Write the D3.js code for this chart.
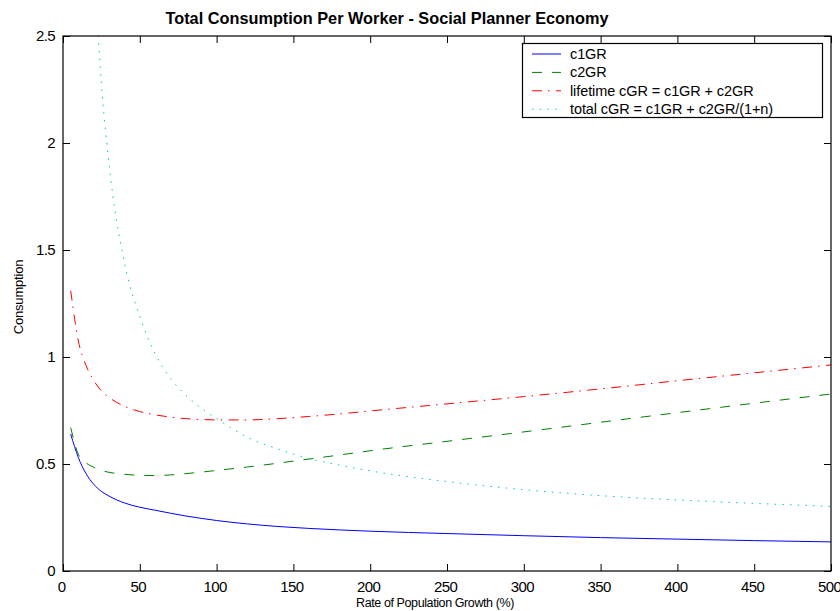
<!DOCTYPE html>
<html>
<head>
<meta charset="utf-8">
<script src="https://cdn.jsdelivr.net/npm/d3@7"></script>
<style>
  html, body { margin: 0; padding: 0; background: #fff; }
  svg { display: block; }
  text { font-family: "Liberation Sans", Arial, sans-serif; fill: #000; }
</style>
</head>
<body>
<svg id="chart" width="840" height="611"></svg>
<script>
// Population growth rate (%) at which each series was evaluated
const growth = [5, 10, 15, 20, 25, 30, 40, 50, 60, 70, 80, 90, 100, 120, 140, 160, 180, 200, 250, 300, 350, 400, 450, 500];

// Consumption of the young (c1GR)
const c1GR = [0.64, 0.53, 0.455, 0.405, 0.372, 0.35, 0.318, 0.298, 0.284, 0.27, 0.257, 0.246, 0.236, 0.22, 0.208, 0.199, 0.192, 0.186, 0.175, 0.165, 0.156, 0.149, 0.142, 0.136];

// Consumption of the old (c2GR)
const c2GR = [0.67, 0.545, 0.505, 0.485, 0.47, 0.461, 0.452, 0.447, 0.446, 0.449, 0.455, 0.462, 0.47, 0.486, 0.504, 0.523, 0.542, 0.562, 0.606, 0.65, 0.695, 0.74, 0.784, 0.827];

// Lifetime consumption (c1GR + c2GR)
const lifetimeCGR = [1.31, 1.075, 0.96, 0.89, 0.842, 0.811, 0.77, 0.745, 0.73, 0.719, 0.712, 0.708, 0.706, 0.706, 0.712, 0.722, 0.734, 0.748, 0.781, 0.815, 0.851, 0.889, 0.926, 0.963];

// Total consumption per worker (c1GR + c2GR/(1+n))
const totalCGR = [12.0, 6.0, 3.9, 2.9, 2.28, 1.9, 1.44, 1.19, 1.015, 0.9, 0.822, 0.76, 0.712, 0.625, 0.57, 0.526, 0.495, 0.468, 0.418, 0.38, 0.352, 0.332, 0.316, 0.302];

const legendLabels = ["c1GR", "c2GR", "lifetime cGR = c1GR + c2GR", "total cGR = c1GR + c2GR/(1+n)"];
const xTicks = [0, 50, 100, 150, 200, 250, 300, 350, 400, 450, 500];
const yTicks = [0, 0.5, 1, 1.5, 2, 2.5];

const svg = d3.select("#chart");
const plot = { left: 63, right: 831, top: 36, bottom: 571 };

const x = d3.scaleLinear().domain([0, 500]).range([plot.left, plot.right]);
const y = d3.scaleLinear().domain([0, 2.5]).range([plot.bottom, plot.top]);

const series = [
  { label: legendLabels[0], values: c1GR, color: "#0000ff", dash: null },
  { label: legendLabels[1], values: c2GR, color: "#008000", dash: "10,10" },
  { label: legendLabels[2], values: lifetimeCGR, color: "#ff0000", dash: "10,6,1.5,6.5" },
  { label: legendLabels[3], values: totalCGR, color: "#00c8c8", dash: "1.5,6.2" }
];

svg.append("defs").append("clipPath").attr("id", "plot-clip")
  .append("rect")
  .attr("x", plot.left).attr("y", plot.top)
  .attr("width", plot.right - plot.left).attr("height", plot.bottom - plot.top);

// Curves
const line = d3.line()
  .x((d, i) => x(growth[i]))
  .y(d => y(d))
  .curve(d3.curveMonotoneX);

const curves = svg.append("g").attr("clip-path", "url(#plot-clip)");
series.forEach(s => {
  curves.append("path")
    .attr("d", line(s.values))
    .attr("fill", "none")
    .attr("stroke", s.color)
    .attr("stroke-width", 1)
    .attr("stroke-dasharray", s.dash);
});

// Axes: ticks point into the plot on all four sides
const tickLen = 7;
const fmt = d => d3.format("~g")(d);

const xBottom = svg.append("g").attr("transform", `translate(0,${plot.bottom})`)
  .call(d3.axisBottom(x).tickValues(xTicks).tickSizeInner(-tickLen).tickSizeOuter(0).tickPadding(10).tickFormat(fmt));
const xTop = svg.append("g").attr("transform", `translate(0,${plot.top})`)
  .call(d3.axisTop(x).tickValues(xTicks).tickSizeInner(-tickLen).tickSizeOuter(0).tickFormat(""));
const yLeft = svg.append("g").attr("transform", `translate(${plot.left},0)`)
  .call(d3.axisLeft(y).tickValues(yTicks).tickSizeInner(-tickLen).tickSizeOuter(0).tickPadding(8).tickFormat(fmt));
const yRight = svg.append("g").attr("transform", `translate(${plot.right},0)`)
  .call(d3.axisRight(y).tickValues(yTicks).tickSizeInner(-tickLen).tickSizeOuter(0).tickFormat(""));

[xBottom, xTop, yLeft, yRight].forEach(g => {
  g.select(".domain").remove();
  g.selectAll(".tick line").attr("stroke", "#000").attr("stroke-width", 1);
});
[xBottom, yLeft].forEach(g => {
  g.selectAll(".tick text")
    .attr("font-family", "Liberation Sans, Arial, sans-serif")
    .attr("font-size", 15)
    .attr("letter-spacing", "-0.6px")
    .attr("fill", "#000");
});
xBottom.selectAll(".tick text").attr("dy", "0.71em").attr("dx", "-2");

// Plot frame
svg.append("rect")
  .attr("x", plot.left).attr("y", plot.top)
  .attr("width", plot.right - plot.left).attr("height", plot.bottom - plot.top)
  .attr("fill", "none").attr("stroke", "#000").attr("stroke-width", 1.2);

// Title and axis labels
svg.append("text")
  .attr("x", 387).attr("y", 24)
  .attr("text-anchor", "middle")
  .attr("font-size", 17).attr("font-weight", "bold")
  .attr("textLength", 443).attr("lengthAdjust", "spacingAndGlyphs")
  .text("Total Consumption Per Worker - Social Planner Economy");

svg.append("text")
  .attr("x", 435).attr("y", 607)
  .attr("text-anchor", "middle")
  .attr("font-size", 12.5).attr("letter-spacing", "-0.4px")
  .text("Rate of Population Growth (%)");

svg.append("text")
  .attr("transform", "translate(23,297) rotate(-90)")
  .attr("text-anchor", "middle")
  .attr("font-size", 13).attr("letter-spacing", "-0.2px")
  .text("Consumption");

// Legend
const legend = svg.append("g");
legend.append("rect")
  .attr("x", 522.5).attr("y", 43.5).attr("width", 300).attr("height", 74)
  .attr("fill", "#fff").attr("stroke", "#000").attr("stroke-width", 1.2);

series.forEach((s, i) => {
  const cy = 54 + i * 18.4;
  legend.append("line")
    .attr("x1", 532).attr("x2", 561).attr("y1", cy).attr("y2", cy)
    .attr("stroke", s.color).attr("stroke-width", 1)
    .attr("stroke-dasharray", s.dash);
  legend.append("text")
    .attr("x", 570).attr("y", cy + 5)
    .attr("font-size", 14.5).attr("letter-spacing", "-0.1px")
    .text(s.label);
});
</script>
</body>
</html>
